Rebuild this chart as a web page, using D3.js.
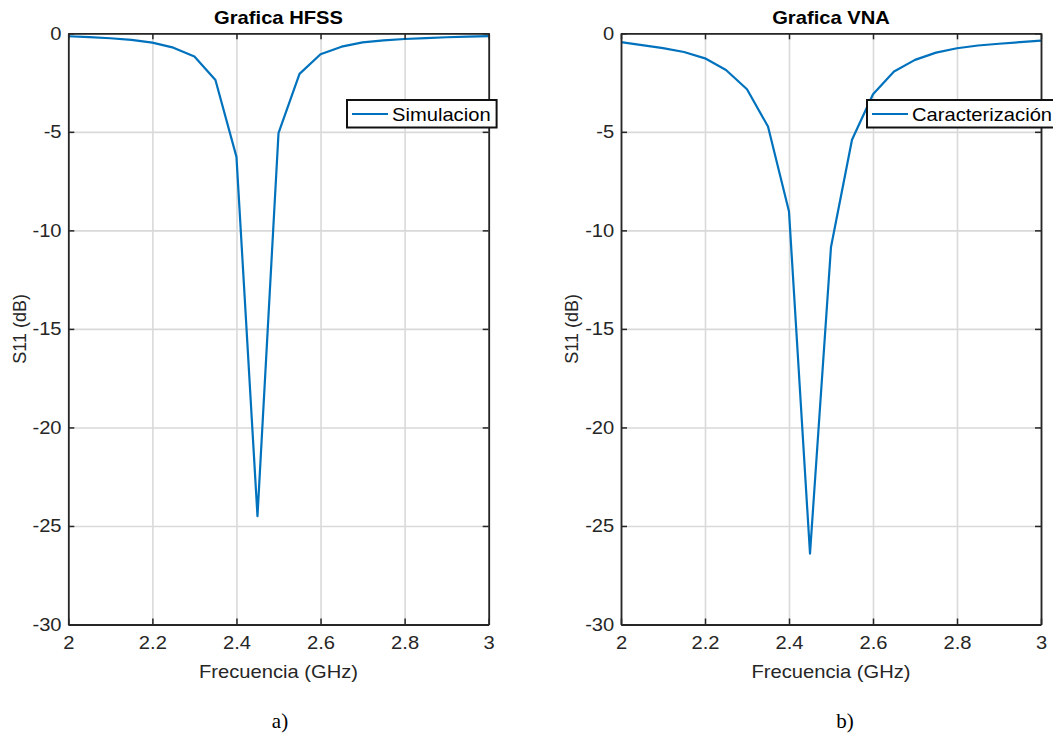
<!DOCTYPE html>
<html>
<head>
<meta charset="utf-8">
<script src="https://cdn.jsdelivr.net/npm/d3@7"></script>
<style>
	body { margin: 0; background: #fff; }
	svg { display: block; }
</style>
</head>
<body>
<div id="chart"></div>
<script>
/* jshint esversion:6 */
var freq = [2.00, 2.05, 2.10, 2.15, 2.20, 2.25, 2.30, 2.35, 2.40, 2.45, 2.50, 2.55, 2.60, 2.65, 2.70, 2.75, 2.80, 2.85, 2.90, 2.95, 3.00];
var hfss = [-0.15, -0.19, -0.25, -0.33, -0.47, -0.73, -1.18, -2.37, -6.27, -24.5, -5.07, -2.06, -1.06, -0.68, -0.46, -0.36, -0.29, -0.24, -0.20, -0.17, -0.14];
var vna = [-0.45, -0.60, -0.75, -0.95, -1.27, -1.86, -2.84, -4.73, -9.04, -26.4, -10.84, -5.40, -3.09, -1.94, -1.35, -0.98, -0.76, -0.62, -0.53, -0.45, -0.37];
var xTicks = [2, 2.2, 2.4, 2.6, 2.8, 3];
var yTicks = [0, -5, -10, -15, -20, -25, -30];

var sx = 1.12; // picture is a bit wider than tall
var blue = "#0072BD", ink = "#262626";
var sans = "'Liberation Sans', Arial, sans-serif";

function drawPanel(svg, opt) {
	var x = d3.scaleLinear().domain([2, 3]).range([opt.x0, opt.x1]);
	var y = d3.scaleLinear().domain([0, -30]).range([33.3, 624.5]);
	var g = svg.append("g").attr("font-family", sans);

	// grid
	g.append("g")
		.attr("transform", "translate(0," + y(-30) + ")")
		.call(d3.axisBottom(x).tickValues(xTicks).tickSize(-(y(-30) - y(0))).tickFormat(""))
		.call(function(a) { a.select(".domain").remove(); })
		.selectAll("line").attr("stroke", "#d9d9d9").attr("stroke-width", 1.6);
	g.append("g")
		.attr("transform", "translate(" + opt.x0 + ",0)")
		.call(d3.axisLeft(y).tickValues(yTicks).tickSize(-(opt.x1 - opt.x0)).tickFormat(""))
		.call(function(a) { a.select(".domain").remove(); })
		.selectAll("line").attr("stroke", "#d9d9d9").attr("stroke-width", 1.6);

	// curve
	var line = d3.line()
		.x(function(d, i) { return x(freq[i]); })
		.y(function(d) { return y(d); });
	g.append("path")
		.datum(opt.values)
		.attr("d", line)
		.attr("fill", "none")
		.attr("stroke", blue)
		.attr("stroke-width", 2.2)
		.attr("stroke-linejoin", "round");

	// axes, ticks inside on all four sides
	var fmt = function(d) { return String(d); };
	var ax = [
		[d3.axisBottom(x).tickValues(xTicks).tickFormat(fmt).tickPadding(12), "translate(0," + y(-30) + ")"],
		[d3.axisTop(x).tickValues(xTicks).tickFormat(""), "translate(0," + y(0) + ")"],
		[d3.axisLeft(y).tickValues(yTicks).tickFormat(fmt).tickPadding(6), "translate(" + opt.x0 + ",0)"],
		[d3.axisRight(y).tickValues(yTicks).tickFormat(""), "translate(" + opt.x1 + ",0)"]
	];
	ax.forEach(function(a) {
		var ag = g.append("g")
			.attr("transform", a[1])
			.call(a[0].tickSizeInner(-6).tickSizeOuter(0))
			.attr("font-family", sans);
		ag.select(".domain").attr("stroke", ink).attr("stroke-width", 1.8);
		ag.selectAll("line").attr("stroke", ink).attr("stroke-width", 1.5);
		ag.selectAll("text")
			.attr("font-size", 18)
			.attr("fill", ink)
			.attr("transform", "scale(" + sx + ",1)");
	});

	// title
	g.append("text")
		.attr("transform", "translate(" + x(2.5) + ",24) scale(" + sx + ",1)")
		.attr("text-anchor", "middle")
		.attr("font-size", 18)
		.attr("font-weight", "bold")
		.attr("fill", "#000")
		.text(opt.title);

	// axis labels
	g.append("text")
		.attr("transform", "translate(" + x(2.5) + ",678) scale(" + sx + ",1)")
		.attr("text-anchor", "middle")
		.attr("font-size", 18)
		.attr("fill", ink)
		.text("Frecuencia (GHz)");
	g.append("text")
		.attr("transform", "translate(" + opt.ylabX + "," + y(-15) + ") rotate(-90)")
		.attr("text-anchor", "middle")
		.attr("font-size", 18)
		.attr("fill", ink)
		.text("S11 (dB)");

	// legend
	var lg = g.append("g").attr("transform", "translate(" + opt.legX + ",100)");
	var lt = lg.append("text")
		.attr("transform", "translate(45,20.5) scale(" + sx + ",1)")
		.attr("font-size", 18)
		.attr("fill", "#000")
		.text(opt.name);
	var tw = lt.node().getComputedTextLength() * sx;
	lg.insert("rect", "text")
		.attr("width", tw + 51)
		.attr("height", 27.5)
		.attr("fill", "#fff")
		.attr("stroke", "#111")
		.attr("stroke-width", 2);
	lg.append("line")
		.attr("x1", 5).attr("x2", 41)
		.attr("y1", 14).attr("y2", 14)
		.attr("stroke", blue)
		.attr("stroke-width", 2.2);

	// caption
	svg.append("text")
		.attr("x", opt.capX)
		.attr("y", 728)
		.attr("text-anchor", "middle")
		.attr("font-family", "'Liberation Serif', 'Times New Roman', serif")
		.attr("font-size", 21)
		.attr("fill", "#000")
		.text(opt.caption);
}

window.onload = function () {
	var svg = d3.select("#chart").append("svg")
		.attr("width", 1053)
		.attr("height", 736);
	drawPanel(svg, {x0: 68.3, x1: 488.7, values: hfss, title: "Grafica HFSS", name: "Simulacion", legX: 347, ylabX: 26, capX: 280, caption: "a)"});
	drawPanel(svg, {x0: 621, x1: 1041, values: vna, title: "Grafica VNA", name: "Caracterización", legX: 867, ylabX: 578, capX: 845, caption: "b)"});
};
</script>
</body>
</html>
